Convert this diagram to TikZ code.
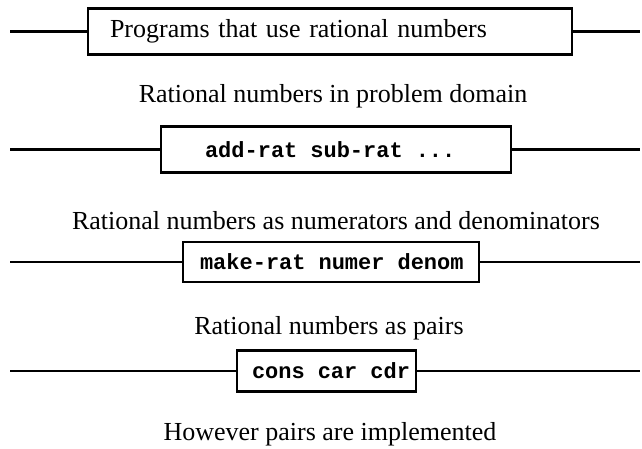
\documentclass[tikz,border=0pt]{standalone}
\usepackage{fontspec}
\setmainfont{Liberation Serif}
\setmonofont{Liberation Mono}
\usepackage{tikz}
\usetikzlibrary{positioning}
\newcommand{\gap}{\hspace{13pt}}
\tikzstyle{barrier} = [rectangle, draw=black, line width=2.6pt, align=left,
                       font=\fontsize{22}{24}\selectfont\ttfamily\bfseries]
\tikzstyle{level}   = [font=\fontsize{26}{30}\selectfont, inner sep=0pt]
\tikzstyle{wire}    = [line width=2.2pt]

\begin{document}
\begin{tikzpicture}[x=1pt, y=-1pt]
    \useasboundingbox (0,0) rectangle (642,448);
    \node[barrier, font=\fontsize{26}{30}\selectfont, minimum height=46pt,
          inner xsep=22pt, text width=440pt] (progs) at (330,31.5)
          {Programs that use rational numbers};
    \node[level] (domain) at (333,96) {Rational numbers in problem domain};
    \node[barrier, minimum height=46pt, inner xsep=44pt, text width=262pt]
          (ops) at (336,149.5) {\mbox{add-rat\gap sub-rat\gap ...}};
    \node[level] (numden) at (336,221) {Rational numbers as numerators and denominators};
    \node[barrier, minimum height=40pt, inner xsep=17pt, text width=262pt]
          (ctor) at (331,262) {\mbox{make-rat\gap numer\gap denom}};
    \node[level] (pairs) at (329,328) {Rational numbers as pairs};
    \node[barrier, minimum height=41pt, inner xsep=15pt, text width=149pt]
          (prims) at (326.5,371) {\mbox{cons\gap car\gap cdr}};
    \node[level] (impl) at (330,434.5) {However pairs are implemented};

    % barrier lines
    \foreach \b in {progs, ops, ctor, prims} {
        \coordinate (\b-l) at (10,0 |- \b.west);
        \coordinate (\b-r) at (640,0 |- \b.east);
        \draw[wire] (\b-l) -- (\b.west);
        \draw[wire] (\b.east) -- (\b-r);
    }
\end{tikzpicture}
\end{document}
